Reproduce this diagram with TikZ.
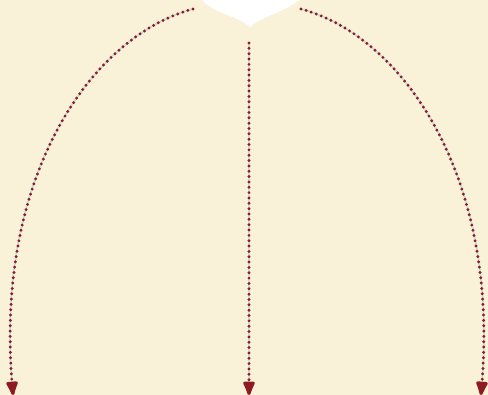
\documentclass[tikz,border=0pt]{standalone}
\usetikzlibrary{arrows.meta}
\definecolor{Paper}{HTML}{F9F2D9}
\definecolor{Wine}{HTML}{8E1B22}
\definecolor{Haze}{HTML}{CFDCDA}

\begin{document}
\begin{tikzpicture}[x=0.025cm,y=-0.025cm,
    flow/.style={draw=Wine,line width=2.3pt,line cap=round,
      dash pattern=on 0pt off 3.8pt,
      preaction={draw=Haze,line width=1.3pt,solid,-,shorten >=10pt},
      -{Latex[length=13pt,width=10pt,round=false]}}]
    \fill[Paper] (0,0) rectangle (488,395);
    \useasboundingbox (0,0) rectangle (488,395);
    % notch at the top
    \fill[white] (202,0) .. controls (215,14) and (238,16) .. (250,27)
      .. controls (262,16) and (285,12) .. (299,0) -- cycle;
    \coordinate (leftstart) at (193,9);
    \coordinate (midstart) at (249,43);
    \coordinate (rightstart) at (301,9);
    \coordinate (leftend) at (13,395);
    \coordinate (midend) at (249,395);
    \coordinate (rightend) at (481,395);
    \draw[flow] (leftstart) .. controls (95,35) and (-5,170) .. (leftend);
    \draw[flow] (midstart) -- (midend);
    \draw[flow] (rightstart) .. controls (399,35) and (499,170) .. (rightend);
\end{tikzpicture}
\end{document}
